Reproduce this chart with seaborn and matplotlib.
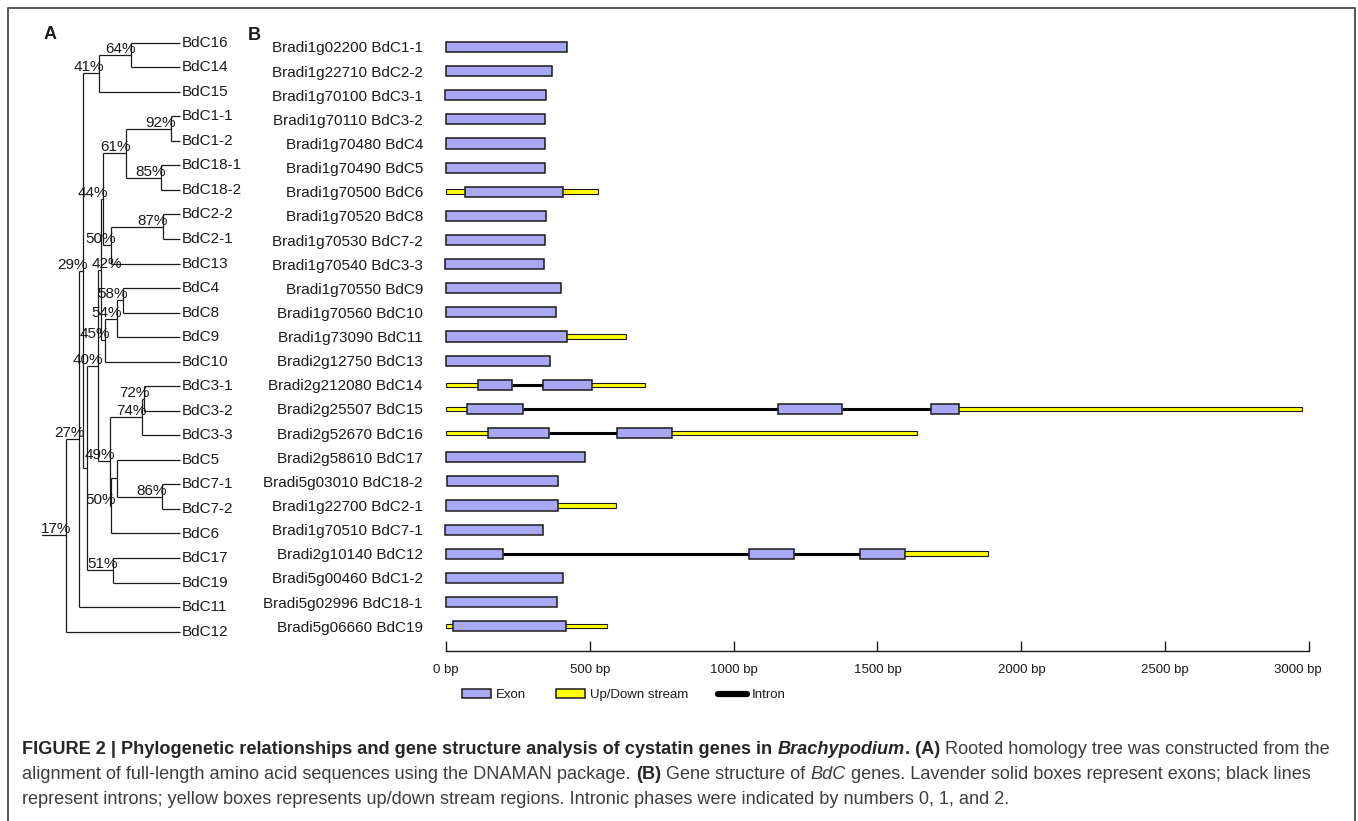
import matplotlib
matplotlib.use("Agg")
import matplotlib.pyplot as plt
from matplotlib.patches import Patch
from matplotlib.lines import Line2D
from matplotlib.transforms import ScaledTranslation
import pandas as pd
import seaborn as sns

# ---- panel B: gene structures (bp) ----
gene_ids = ["Bradi1g02200", "Bradi1g22710", "Bradi1g70100", "Bradi1g70110", "Bradi1g70480",
            "Bradi1g70490", "Bradi1g70500", "Bradi1g70520", "Bradi1g70530", "Bradi1g70540",
            "Bradi1g70550", "Bradi1g70560", "Bradi1g73090", "Bradi2g12750", "Bradi2g212080",
            "Bradi2g25507", "Bradi2g52670", "Bradi2g58610", "Bradi5g03010", "Bradi1g22700",
            "Bradi1g70510", "Bradi2g10140", "Bradi5g00460", "Bradi5g02996", "Bradi5g06660"]
gene_names = ["BdC1-1", "BdC2-2", "BdC3-1", "BdC3-2", "BdC4", "BdC5", "BdC6", "BdC8", "BdC7-2",
              "BdC3-3", "BdC9", "BdC10", "BdC11", "BdC13", "BdC14", "BdC15", "BdC16", "BdC17",
              "BdC18-2", "BdC2-1", "BdC7-1", "BdC12", "BdC1-2", "BdC18-1", "BdC19"]
exon_spans = [
    [(0, 420)], [(0, 367)], [(-3, 347)], [(0, 344)], [(0, 345)],
    [(0, 345)], [(66, 408)], [(0, 347)], [(0, 343)], [(-3, 340)],
    [(0, 400)], [(0, 381)], [(0, 422)], [(0, 362)], [(112, 230), (337, 509)],
    [(73, 266), (1153, 1376), (1686, 1784)], [(147, 359), (595, 784)], [(0, 483)], [(3, 391)], [(0, 388)],
    [(-3, 338)], [(0, 199), (1054, 1211), (1440, 1594)], [(0, 407)], [(0, 386)], [(25, 417)],
]
# end of the up/down stream region, None where no flank is drawn
flank_end = [None, None, None, None, None, None, 530, None, None, None,
             None, None, 626, None, 692, 2976, 1638, None, None, 591,
             None, 1885, None, None, 558]
bp_ticks = [0, 500, 1000, 1500, 2000, 2500, 3000]

# ---- panel A: rooted tree ----
tip_order = ["BdC16", "BdC14", "BdC15", "BdC1-1", "BdC1-2", "BdC18-1", "BdC18-2", "BdC2-2",
             "BdC2-1", "BdC13", "BdC4", "BdC8", "BdC9", "BdC10", "BdC3-1", "BdC3-2", "BdC3-3",
             "BdC5", "BdC7-1", "BdC7-2", "BdC6", "BdC17", "BdC19", "BdC11", "BdC12"]
# node -> (bootstrap label, node depth, child a, child b)
tree_nodes = {
    "n64": ("64%", 131, "BdC16", "BdC14"),
    "n41": ("41%", 99.3, "n64", "BdC15"),
    "n92": ("92%", 170.7, "BdC1-1", "BdC1-2"),
    "n85": ("85%", 161, "BdC18-1", "BdC18-2"),
    "n61": ("61%", 126, "n92", "n85"),
    "n87": ("87%", 162.7, "BdC2-2", "BdC2-1"),
    "n50a": ("50%", 111, "n87", "BdC13"),
    "n44": ("44%", 103.3, "n61", "n50a"),
    "n58": ("58%", 123.3, "BdC4", "BdC8"),
    "n54": ("54%", 117.3, "n58", "BdC9"),
    "n45": ("45%", 105, "n54", "BdC10"),
    "n42": ("42%", 100.5, "n44", "n45"),
    "n72": ("72%", 144.3, "BdC3-1", "BdC3-2"),
    "n74": ("74%", 141.7, "n72", "BdC3-3"),
    "n86": ("86%", 161.7, "BdC7-1", "BdC7-2"),
    "n5": ("", 116.7, "BdC5", "n86"),
    "n50b": ("50%", 111, "n5", "BdC6"),
    "n49": ("49%", 110, "n74", "n50b"),
    "n40": ("40%", 97.7, "n42", "n49"),
    "n51": ("51%", 113.3, "BdC17", "BdC19"),
    "nD": ("", 87.3, "n40", "n51"),
    "n29": ("29%", 82.7, "n41", "nD"),
    "n27": ("27%", 79.3, "n29", "BdC11"),
    "n17": ("17%", 66, "n27", "BdC12"),
}
root = "n17"

EXON = "#a8a8f5"
FLANK = "#ffff00"
INK = "#1a1a1a"

sns.set_theme(style="white")
plt.rcParams["font.family"] = ["Liberation Sans", "DejaVu Sans"]

W, H = 1358, 821
fig = plt.figure(figsize=(W / 100, H / 100), dpi=100)
renderer = fig.canvas.get_renderer()

# full-figure canvas in pixel units (tree, frame, captions)
canvas = fig.add_axes([0, 0, 1, 1])
canvas.set_xlim(0, W)
canvas.set_ylim(H, 0)
canvas.axis("off")

canvas.plot([8, 8, 1355, 1355], [H, 8, 8, H], color="#555555", lw=1.4)

canvas.text(44, 39, "A", fontsize=13, fontweight="bold", color=INK)
canvas.text(248, 40, "B", fontsize=13, fontweight="bold", color=INK)

# tree layout
tip_x = 180
tip_top, tip_gap = 42.7, 24.54
tip_y = {name: tip_top + i * tip_gap for i, name in enumerate(tip_order)}
node_labels = []


def draw_clade(name):
    if name not in tree_nodes:
        return tip_x, tip_y[name]
    label, depth, a, b = tree_nodes[name]
    ys = []
    for child in (a, b):
        cx, cy = draw_clade(child)
        canvas.plot([depth, cx], [cy, cy], color=INK, lw=0.9, solid_capstyle="butt")
        ys.append(cy)
    canvas.plot([depth, depth], ys, color=INK, lw=0.9, solid_capstyle="butt")
    y = sum(ys) / 2
    if label:
        node_labels.append((depth, y, label))
    return depth, y


rx, ry = draw_clade(root)
canvas.plot([41.7, rx], [ry, ry], color=INK, lw=0.9)
for name, y in tip_y.items():
    canvas.text(tip_x + 2, y, name, va="center", fontsize=11, color=INK)

# bootstrap labels: shallow nodes first, deeper ones slide right when they collide
placed = []
for depth, y, label in sorted(node_labels):
    t = canvas.text(depth + 5, y - 2, label, ha="right", va="baseline", fontsize=11, color=INK)
    x = depth + 5
    for _ in range(5):
        bb = t.get_window_extent(renderer)
        hit = [p for p in placed if bb.x0 < p.x1 + 2 and bb.x1 > p.x0 - 2
               and bb.y0 < p.y1 - 2 and bb.y1 > p.y0 + 2]
        if not hit:
            break
        x += max(p.x1 for p in hit) - bb.x0 + 4
        t.set_x(x)
    placed.append(t.get_window_extent(renderer))

# ---- gene structure panel ----
rows = pd.DataFrame({"label": [f"{g} {n}" for g, n in zip(gene_ids, gene_names)],
                     "flank": pd.Series(flank_end, dtype="float")})

ax = fig.add_axes([446 / W, 1 - 651 / H, 863 / W, (651 - 34.9) / H])
ax.patch.set_alpha(0)
sns.barplot(data=rows.dropna(), x="flank", y="label", order=list(rows["label"]), orient="h",
            width=0.19, color=FLANK, saturation=1, edgecolor=INK, linewidth=0.8,
            errorbar=None, ax=ax, zorder=1)

for i, spans in enumerate(exon_spans):
    first, last = spans[0][0], spans[-1][1]
    # the flank only shows outside the gene body
    ax.barh(i, last - first, left=first, height=0.3, color="white", lw=0, zorder=1.5)
    for (s0, e0), (s1, e1) in zip(spans[:-1], spans[1:]):
        ax.plot([e0, s1], [i, i], color="black", lw=2.2, zorder=2, solid_capstyle="butt")
    ax.barh([i] * len(spans), [e - s for s, e in spans], left=[s for s, e in spans],
            height=0.42, color=EXON, edgecolor=INK, linewidth=1.1, zorder=3, clip_on=False)

ax.set_xlim(0, 3000)
ax.set_ylim(25.03, -0.5)
ax.set_xticks(bp_ticks, [f"{t} bp" for t in bp_ticks])
ax.tick_params(axis="x", direction="in", length=7, width=1, color=INK, labelsize=9.5,
               pad=9, bottom=True, labelcolor=INK)
ax.tick_params(axis="y", length=0, labelsize=11, pad=16.6, labelcolor=INK)
ax.set_xlabel("")
ax.set_ylabel("")
sns.despine(ax=ax, left=True)
ax.spines["bottom"].set_color(INK)
ax.spines["bottom"].set_linewidth(1.0)
end_label = ax.get_xticklabels()[-1]
end_label.set_transform(end_label.get_transform() + ScaledTranslation(-11 / 100, 0, fig.dpi_scale_trans))

fig.legend(handles=[Patch(facecolor=EXON, edgecolor=INK, linewidth=1.1),
                    Patch(facecolor=FLANK, edgecolor=INK, linewidth=1.1),
                    Line2D([], [], color="black", lw=4.5)],
           labels=["Exon", "Up/Down stream", "Intron"], loc="center left",
           bbox_to_anchor=(462 / W, 1 - 695 / H), ncol=3, frameon=False, fontsize=9.5,
           handlelength=2.2, handletextpad=0.35, columnspacing=2.3, borderpad=0,
           borderaxespad=0, labelcolor=INK)

# ---- caption ----
cap_size = 13.1
space_pt = 0.278 * cap_size
caption = [
    [("FIGURE 2 | Phylogenetic relationships and gene structure analysis of cystatin genes in", "bold", "normal", 0),
     ("Brachypodium", "bold", "italic", 1), (". (A)", "bold", "normal", 0),
     ("Rooted homology tree was constructed from the", "normal", "normal", 1)],
    [("alignment of full-length amino acid sequences using the DNAMAN package.", "normal", "normal", 0),
     ("(B)", "bold", "normal", 1), ("Gene structure of", "normal", "normal", 1),
     ("BdC", "normal", "italic", 1),
     ("genes. Lavender solid boxes represent exons; black lines", "normal", "normal", 1)],
    [("represent introns; yellow boxes represents up/down stream regions. "
      "Intronic phases were indicated by numbers 0, 1, and 2.", "normal", "normal", 0)],
]
for k, line in enumerate(caption):
    base = 754.5 + k * 24.5
    prev = None
    for text, weight, style, gap in line:
        color = "#262626" if weight == "bold" else "#3d3d3d"
        kw = dict(fontsize=cap_size, fontweight=weight, fontstyle=style, color=color,
                  ha="left", va="baseline")
        if prev is None:
            prev = canvas.text(22.5, base, text, **kw)
        else:
            prev = canvas.annotate(text, xy=(1, base), xycoords=(prev, "data"),
                                   xytext=(gap * space_pt, 0), textcoords="offset points", **kw)

fig.savefig("out.png", dpi=100)
